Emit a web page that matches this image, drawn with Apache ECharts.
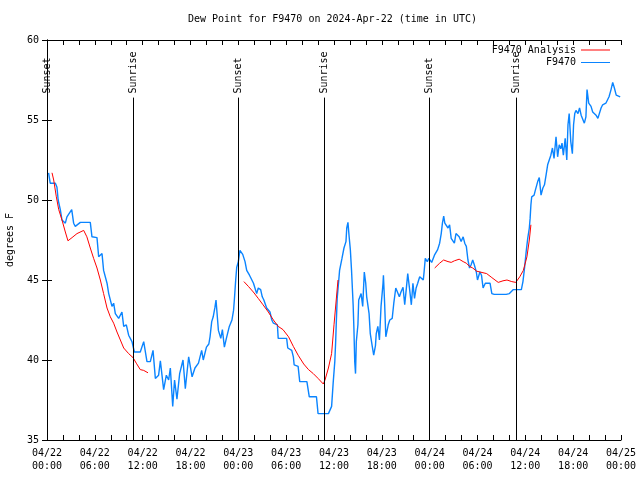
<!DOCTYPE html>
<html>
<head>
<meta charset="utf-8">
<script src="https://cdn.jsdelivr.net/npm/echarts@6/dist/echarts.min.js"></script>
<style>html,body{margin:0;padding:0;background:#fff;}#c{width:640px;height:480px;}</style>
</head>
<body>
<div id="c"></div>
<script>
// hours since 2024-04-22 00:00 UTC
const obsHours = [0.2,0.4,1.05,1.25,1.4,1.67,1.88,2.3,2.5,3.1,3.34,3.55,4.18,5.43,5.64,6.27,6.48,6.9,7.1,7.53,7.74,8.15,8.36,8.57,8.99,9.4,9.62,9.95,10.24,10.66,10.96,11.7,12.13,12.54,12.96,13.3,13.59,14.0,14.22,14.63,14.97,15.26,15.47,15.77,16.0,16.3,16.64,17.06,17.35,17.77,17.95,18.2,18.56,18.8,19.0,19.4,19.6,20.0,20.3,20.45,20.66,20.85,21.07,21.2,21.5,21.8,22.0,22.25,22.5,22.87,23.2,23.4,23.5,23.67,23.8,24.0,24.2,24.55,24.84,25.05,25.4,25.6,25.9,26.3,26.5,26.8,27.0,27.2,27.55,27.97,28.2,28.4,28.9,29.0,30.06,30.2,30.7,30.9,31.0,31.5,31.7,32.6,32.9,33.8,34.0,35.3,35.7,35.9,36.1,36.2,36.3,36.4,36.6,36.7,36.9,37.0,37.25,37.5,37.6,37.75,37.9,38.05,38.2,38.4,38.5,38.6,38.7,38.8,39.0,39.1,39.25,39.4,39.6,39.8,39.98,40.1,40.4,40.55,40.8,40.98,41.2,41.3,41.5,41.7,41.9,42.15,42.2,42.35,42.5,42.8,43.0,43.3,43.5,43.75,44.0,44.2,44.4,44.66,44.87,45.05,45.25,45.5,45.7,45.9,46.1,46.3,46.5,46.75,47.0,47.2,47.3,47.45,47.7,47.9,48.1,48.25,48.4,48.6,48.8,49.0,49.25,49.45,49.6,49.76,49.9,50.1,50.3,50.5,50.7,50.9,51.1,51.3,51.5,51.7,51.95,52.2,52.4,52.6,52.8,53.0,53.2,53.4,53.6,53.85,54.0,54.3,54.5,54.7,54.98,55.57,55.8,56.1,57.6,58.0,58.5,59.5,59.7,59.9,60.1,60.3,60.5,60.6,60.7,60.8,61.1,61.25,61.55,61.75,61.97,62.2,62.4,62.6,62.8,63.0,63.2,63.4,63.6,63.85,64.05,64.25,64.45,64.6,64.77,65.0,65.2,65.35,65.5,65.7,65.9,66.05,66.2,66.35,66.6,66.8,67.0,67.2,67.4,67.6,67.74,67.95,68.24,68.45,68.65,68.87,69.1,69.28,69.5,69.7,70.1,70.3,70.5,70.75,70.96,71.17,71.4,71.6,71.9];
const obsDew = [51.7,51.05,51.05,50.8,50.0,49.4,48.75,48.55,48.95,49.4,48.55,48.35,48.6,48.6,47.7,47.65,46.45,46.65,45.6,44.8,44.15,43.35,43.55,42.9,42.6,43.0,42.1,42.2,41.55,41.15,40.5,40.5,41.15,39.9,39.9,40.6,38.85,39.05,39.95,38.15,39.05,38.75,39.5,37.1,38.75,37.55,39.15,40.0,38.2,40.2,40.2,38.95,39.5,39.6,39.8,40.6,40.0,40.8,41.0,41.45,42.4,42.7,43.3,43.75,41.85,41.35,41.9,40.8,41.35,42.1,42.5,43.1,43.75,45.0,45.8,46.15,46.85,46.6,46.15,45.6,45.3,45.4,44.8,44.15,44.5,44.4,43.95,43.75,43.25,43.0,42.5,42.3,42.2,41.35,41.35,40.75,40.6,40.2,39.7,39.6,38.65,38.65,37.7,37.7,36.65,36.65,37.1,38.6,39.9,41.05,42.5,43.85,45.0,45.6,45.6,46.35,47.0,47.4,48.25,48.6,47.7,46.9,45.6,43.45,41.9,39.9,39.15,41.15,42.2,43.75,43.95,44.15,43.35,45.5,44.8,43.95,42.9,41.65,40.85,40.3,40.9,41.65,42.1,41.25,43.35,44.8,45.3,43.55,41.45,42.2,42.5,42.6,43.55,44.5,44.5,43.95,44.25,44.55,43.45,44.35,45.4,44.35,43.45,44.8,43.85,44.5,44.8,45.2,45.2,45.0,45.5,46.35,46.15,46.35,46.3,46.1,46.05,46.55,46.65,46.9,47.3,47.9,48.55,49.0,48.55,48.45,48.25,48.45,47.6,47.5,47.3,47.9,47.8,47.7,47.4,47.7,47.3,47.1,46.25,45.75,45.95,46.25,45.95,45.5,45.0,45.5,45.3,44.5,44.8,44.8,44.15,44.1,44.1,44.15,44.4,44.4,44.9,45.75,46.75,47.6,48.25,48.85,49.7,50.2,50.3,50.6,51.15,51.4,50.3,50.75,50.95,51.55,52.2,52.3,52.8,53.25,52.6,53.95,52.7,53.45,53.2,53.55,52.8,53.85,52.5,54.7,55.4,53.65,52.9,54.7,55.4,55.6,55.4,55.75,55.3,55.25,54.8,55.2,56.9,56.05,55.85,55.5,55.6,55.3,55.1,55.0,55.75,55.95,56.05,56.25,56.45,56.9,57.35,57.0,56.55,56.45,56.45];

const anaHours = [0.63,0.84,1.17,1.47,1.88,2.3,2.63,3.14,3.76,4.6,5.0,5.43,5.85,6.27,6.69,7.1,7.53,7.94,8.36,8.78,9.2,9.62,10.24,10.79,11.2,11.7,12.13,12.67,18.0,24.7,25.26,25.88,26.5,27.1,27.76,28.4,29.0,29.6,30.3,30.9,31.5,32.2,32.8,33.4,34.0,34.66,34.87,35.3,35.7,36.0,36.5,42.0,48.63,49.25,49.75,50.3,50.7,51.1,51.7,52.2,52.6,53.0,53.4,53.9,54.1,55.15,55.8,56.6,57.2,57.7,58.3,58.8,59.3,59.75,60.2,60.5,60.7];
const anaDew = [51.7,51.25,50.2,49.4,48.75,48.0,47.45,47.65,47.9,48.1,47.7,47.0,46.35,45.75,45.0,44.15,43.25,42.7,42.3,41.75,41.25,40.75,40.4,40.15,39.8,39.4,39.35,39.2,null,44.9,44.6,44.25,43.85,43.45,43.0,42.5,42.1,41.9,41.45,40.85,40.3,39.75,39.4,39.15,38.85,38.5,38.75,39.5,40.4,42.2,45.0,null,45.75,46.05,46.25,46.15,46.1,46.2,46.3,46.15,46.05,45.85,45.75,45.55,45.55,45.4,45.15,44.85,44.95,45.0,44.9,44.85,45.2,45.6,46.45,47.5,48.45];

const sunHours = [0.0, 10.8, 23.97, 34.77, 48.0, 58.83];
const sunLabels = ['Sunset','Sunrise','Sunset','Sunrise','Sunset','Sunrise'];

const xTickLabels = ['04/22\n00:00','04/22\n06:00','04/22\n12:00','04/22\n18:00','04/23\n00:00','04/23\n06:00','04/23\n12:00','04/23\n18:00','04/24\n00:00','04/24\n06:00','04/24\n12:00','04/24\n18:00','04/25\n00:00'];
const yTicks = [35, 40, 45, 50, 55, 60];

const FONT = 'DejaVu Sans Mono';
const LINE_TOP = 56.4;
const BLUE = '#0a84ff';
const RED = '#ff0000';

const obsData = obsHours.map((h, i) => [h, obsDew[i]]);
const anaData = anaHours.map((h, i) => [h, anaDew[i] === null ? '-' : anaDew[i]]);

const chart = echarts.init(document.getElementById('c'), null, {renderer: 'canvas'});
const xBase = {
  type: 'value', min: 0, max: 72, interval: 6,
  axisLine: {show: true, lineStyle: {color: '#000', width: 1}},
  axisTick: {show: true, inside: true, length: 5, lineStyle: {color: '#000'}},
  minorTick: {show: true, splitNumber: 3, length: 5, lineStyle: {color: '#000'}},
  splitLine: {show: false}
};
const yBase = {
  type: 'value', min: 35, max: 60, interval: 5,
  axisLine: {show: true, lineStyle: {color: '#000', width: 1}},
  axisTick: {show: true, inside: true, length: 5, lineStyle: {color: '#000'}},
  splitLine: {show: false}
};
chart.setOption({
  animation: false,
  backgroundColor: '#fff',
  title: {
    text: 'Dew Point for F9470 on 2024-Apr-22 (time in UTC)',
    left: 188, top: 14, padding: 0,
    textStyle: {fontFamily: FONT, fontSize: 10, fontWeight: 'normal', color: '#000'}
  },
  legend: {
    data: [
      {name: 'F9470 Analysis', icon: 'rect', itemStyle: {color: RED}},
      {name: 'F9470', icon: 'rect', itemStyle: {color: BLUE}}
    ],
    orient: 'vertical', align: 'right',
    right: 30, top: 44, padding: 0,
    itemWidth: 29, itemHeight: 1, itemGap: 0.5,
    textStyle: {fontFamily: FONT, fontSize: 10, color: '#000', lineHeight: 12}
  },
  grid: {left: 47, right: 19, top: 40, bottom: 40, show: false, containLabel: false, outerBoundsMode: 'none'},
  xAxis: [
    Object.assign({}, xBase, {
      position: 'bottom',
      axisLabel: {
        show: true, margin: 7, color: '#000', fontFamily: FONT, fontSize: 10, lineHeight: 13,
        hideOverlap: false,
        formatter: v => xTickLabels[Math.round(v / 6)] || ''
      }
    }),
    Object.assign({}, xBase, {position: 'top', axisLabel: {show: false}})
  ],
  yAxis: [
    Object.assign({}, yBase, {
      position: 'left',
      name: 'degrees F', nameLocation: 'middle', nameGap: 32,
      nameTextStyle: {fontFamily: FONT, fontSize: 10, color: '#000'},
      axisLabel: {show: true, margin: 8, color: '#000', fontFamily: FONT, fontSize: 10,
        formatter: v => yTicks.indexOf(v) >= 0 ? String(v) : ''}
    }),
    Object.assign({}, yBase, {position: 'right', axisLabel: {show: false}})
  ],
  series: [
    {
      name: 'F9470', type: 'line', data: obsData, symbol: 'none',
      lineStyle: {color: BLUE, width: 1.4}, itemStyle: {color: BLUE}, z: 3
    },
    {
      name: 'F9470 Analysis', type: 'line', data: anaData, symbol: 'none', connectNulls: false,
      lineStyle: {color: RED, width: 1}, itemStyle: {color: RED}, z: 4
    },
    {
      name: 'sun', type: 'scatter', symbolSize: 0, silent: true, z: 5,
      itemStyle: {opacity: 1},
      data: sunHours.map((h, i) => ({value: [h, LINE_TOP], name: sunLabels[i]})),
      label: {
        show: true, position: [0, -4], rotate: 90, align: 'left', verticalAlign: 'middle',
        formatter: p => p.name, color: '#000', opacity: 1, fontFamily: FONT, fontSize: 10
      },
      markLine: {
        silent: true, symbol: ['none', 'none'], animation: false,
        label: {show: false},
        lineStyle: {color: '#000', width: 1, type: 'solid', opacity: 1},
        data: sunHours.map(h => [{coord: [h, 35]}, {coord: [h, LINE_TOP]}])
      }
    }
  ]
});
</script>
</body>
</html>
